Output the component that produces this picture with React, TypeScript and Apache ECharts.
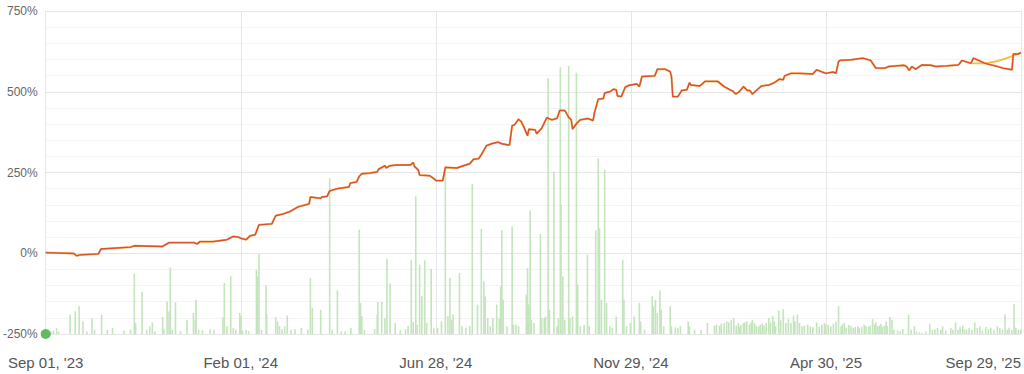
import React, { useEffect, useRef } from "react";
import * as echarts from "echarts";

// x positions are days since Sep 01, '23 (axis spans 759 days)
const xTickLabels = ["Sep 01, '23", "Feb 01, '24", "Jun 28, '24", "Nov 29, '24", "Apr 30, '25", "Sep 29, '25"];
const yTickMin = -250;
const yTickMax = 750;

// cumulative return (%) : [day, value]
const returnLine: [number, number][] = [
  [0, 2], [22, -1], [24, -8], [27, -5], [41, -2], [43, 13], [66, 19], [69, 23], [91, 21], [96, 33],
  [115, 33], [118, 29], [120, 36], [130, 36], [141, 42], [146, 52], [150, 50], [152, 46], [156, 42], [159, 54],
  [163, 57], [166, 88], [176, 91], [179, 116], [185, 122], [190, 129], [196, 143], [205, 153], [206, 174], [214, 170],
  [215, 174], [219, 176], [221, 193], [227, 200], [236, 205], [237, 217], [242, 221], [244, 238], [246, 246], [252, 248],
  [258, 252], [259, 260], [264, 271], [265, 264], [268, 271], [273, 273], [284, 273], [286, 281], [287, 269], [290, 258],
  [291, 242], [299, 240], [304, 225], [309, 225], [311, 266], [320, 264], [325, 271], [330, 277], [333, 291], [337, 293],
  [339, 305], [343, 333], [347, 339], [352, 344], [355, 339], [360, 335], [361, 336], [363, 395], [365, 398], [368, 415],
  [370, 408], [372, 392], [375, 364], [376, 384], [381, 382], [382, 370], [386, 387], [390, 420], [394, 413], [398, 418],
  [400, 442], [404, 442], [407, 421], [409, 413], [410, 384], [413, 401], [416, 413], [422, 417], [426, 411], [427, 434],
  [430, 477], [434, 479], [435, 496], [439, 500], [442, 508], [444, 506], [445, 487], [448, 485], [451, 514], [454, 520],
  [460, 524], [462, 516], [464, 547], [474, 549], [476, 570], [482, 570], [486, 562], [487, 547], [488, 485], [492, 485],
  [495, 504], [499, 506], [501, 528], [502, 521], [509, 518], [513, 532], [523, 532], [528, 516], [535, 501], [537, 493],
  [540, 501], [543, 516], [546, 504], [548, 504], [550, 493], [553, 504], [557, 518], [563, 521], [567, 528], [571, 539],
  [574, 537], [575, 549], [580, 557], [587, 557], [597, 555], [600, 568], [607, 557], [613, 561], [615, 557], [617, 593],
  [618, 597], [627, 599], [636, 604], [642, 597], [646, 573], [653, 573], [656, 578], [662, 580], [668, 582], [670, 578],
  [672, 566], [674, 578], [677, 570], [682, 583], [689, 582], [693, 578], [701, 580], [710, 583], [711, 586], [713, 597],
  [720, 588], [722, 604], [731, 588], [741, 578], [745, 573], [752, 568], [753, 617], [757, 617], [759, 621],
];

// smoothed projection at the end : [day, value]
const projectionLine: [number, number][] = [
  [721, 588], [728, 588], [735, 591], [743, 598], [750, 607], [756, 616], [759, 621],
];

// activity bars : [day, height in % units above the -250% floor]
const activityBars: [number, number][] = [
  [4, 8], [6, 11], [8.5, 19], [10, 8], [19, 60], [23, 70], [26, 86], [29, 39], [32, 8], [36, 49], [38, 13], [43.5, 60],
  [48, 13], [52, 19], [61, 10], [66, 13], [69, 187], [70, 34], [75, 130], [78.5, 13], [81, 24], [83, 36], [85, 8],
  [91, 53], [92, 15], [94.5, 101], [96, 70], [97, 206], [98.5, 13], [101, 98], [105, 8], [110, 44], [115, 65],
  [116.5, 44], [117, 106], [119, 13], [122, 11], [128, 15], [131, 13], [138, 52], [139, 158], [141, 24], [144, 180],
  [146, 19], [148, 13], [151, 65], [152, 55], [153, 10], [156, 12], [158, 8],
  [164, 199], [165, 178], [166, 247], [168, 13], [171.5, 150], [172, 60], [179, 52], [180.5, 39], [182, 24], [184, 15],
  [186, 24], [188, 57], [191, 13], [194, 15], [199, 19], [204, 13], [206, 173], [207.5, 80], [214, 75], [221, 482],
  [223, 13], [227, 135], [230, 8], [233, 8], [237.5, 19], [244, 323], [245, 96], [246, 55], [248, 13], [256, 15],
  [258, 60], [258.5, 99], [261.5, 99], [264, 49], [265.6, 232], [268, 156], [272, 34], [276, 13], [280, 15], [282, 24],
  [284.5, 230], [286, 36], [288, 426], [289, 29], [291, 214], [292.7, 117], [295, 228], [296.5, 34], [300, 201],
  [302, 19], [305, 19], [308, 39], [311, 515], [313, 55],
  [314.6, 173], [316, 44], [317, 60], [322, 189], [324, 24], [327, 19], [330, 24], [332, 465], [336, 91], [339, 325],
  [341, 163], [342, 116], [344, 49], [346, 24], [348, 49], [351, 91], [353, 49], [354, 147], [355, 321], [356, 106],
  [359, 24], [363, 333], [364, 29], [366, 29], [368, 24], [374, 122], [375, 204], [376, 91], [377, 382], [378, 44],
  [380, 34], [385, 310], [386, 49], [388, 49], [389, 54], [391, 792], [392, 75], [395.5, 503], [398, 24], [399, 49],
  [400.5, 826], [401, 400], [402.5, 178], [404, 44], [407, 830], [408, 49], [410, 54], [413, 809], [414, 153],
  [416, 24], [419, 29], [421.6, 245], [423, 24], [428, 321], [430, 544], [431, 328], [432.5, 106], [435, 508],
  [436.5, 96], [439, 24], [441, 19], [444, 54], [449, 230], [450, 106], [452, 24], [455, 34], [458, 54], [462, 96],
  [463, 39],
  [466, 13], [472, 117], [473, 86], [474.5, 106], [476, 65], [478, 135], [479, 75], [481, 24], [486, 86], [487, 24],
  [490, 21], [492, 18], [494, 24], [500, 39], [501, 24], [505, 13], [510, 13], [515, 34],
  [520.5, 26], [522, 29], [524.4, 26], [525.7, 32], [528, 34], [530, 39], [531.6, 36], [533.5, 44], [535.5, 49],
  [537.4, 26], [539, 34], [540, 22], [541, 29], [543, 34], [544, 36], [545.6, 39], [547.7, 29], [549, 36], [550, 44],
  [551.6, 34], [553, 26], [554.7, 22], [556, 29], [557.6, 32], [559, 26], [560.7, 34], [562.7, 49], [564, 36],
  [565.8, 55], [567, 39], [568, 24], [570.5, 73], [572, 44], [574, 77], [576, 34], [578, 46], [580, 34], [582, 57],
  [583, 39], [585, 60], [586.6, 34], [588.6, 24], [590.4, 26], [593, 29], [595, 24], [597, 22], [600, 36], [602, 22],
  [604, 29], [606, 34], [607, 29], [609, 29], [611, 24], [613, 32], [615, 39], [617, 86],
  [619, 24], [620, 29], [621.5, 34], [623, 19], [625, 29], [626.7, 24], [628.5, 19], [630, 22], [632, 24], [633, 19],
  [635, 22], [637, 29], [638.4, 24], [640.4, 22], [641.5, 26], [643.5, 46], [645, 29], [646, 36], [647.4, 24],
  [648.7, 26], [650, 32], [651, 22], [652.6, 26], [654, 39], [655, 24], [657, 53], [658.6, 44], [660, 13], [663, 11],
  [665, 8], [667, 15], [671.5, 60], [673.5, 13], [676, 24], [677.6, 8], [680, 5], [682, 3], [685, 8], [688, 32],
  [690, 13], [692, 15], [694, 19], [696.6, 13], [698, 24], [700.5, 11], [704.4, 19], [706, 13], [708, 36], [710, 13],
  [711.6, 22], [713.6, 26], [715, 15], [716.7, 13], [718.6, 19], [720.7, 13], [723, 36], [725, 19], [727, 24],
  [729, 11], [731.6, 22], [733.6, 15], [735.5, 19], [738, 13], [740.6, 24], [742.5, 19], [744.5, 13], [746.6, 60],
  [748.4, 13], [749.7, 19], [751.8, 13], [753.6, 94], [755, 19], [757, 13], [758.7, 13],
];

const startMarker: [number, number][] = [[0, 0]];

const X_MAX = 759;
const X_STEP = X_MAX / (xTickLabels.length - 1);

export default function App() {
  const ref = useRef<HTMLDivElement>(null);
  useEffect(() => {
    if (!ref.current) return;
    const chart = echarts.init(ref.current, undefined, { renderer: "svg" });
    const font = "Arial, 'Liberation Sans', sans-serif";
    chart.setOption({
      animation: false,
      backgroundColor: "#ffffff",
      grid: { left: 45, right: 2, top: 11, bottom: 40, containLabel: false },
      xAxis: {
        type: "value",
        min: 0,
        max: X_MAX,
        interval: X_STEP,
        axisLine: { show: false },
        axisTick: { show: false },
        splitLine: { show: true, lineStyle: { color: "#e6e6e6", width: 1 } },
        axisLabel: {
          margin: 21,
          fontSize: 15,
          fontFamily: font,
          color: "#555555",
          alignMaxLabel: "right",
          formatter: (v: number) => xTickLabels[Math.round(v / X_STEP)] ?? "",
        },
      },
      yAxis: [
        {
          type: "value",
          min: yTickMin,
          max: yTickMax,
          interval: 250,
          axisLine: { show: false },
          axisTick: { show: false },
          splitLine: { show: true, lineStyle: { color: "#e6e6e6", width: 1 } },
          minorTick: { show: false, splitNumber: 5 },
          minorSplitLine: { show: true, lineStyle: { color: "#f3f3f3", width: 1 } },
          axisLabel: {
            margin: 8,
            fontSize: 12,
            fontFamily: font,
            color: "#666666",
            formatter: "{value}%",
          },
        },
        {
          type: "value",
          min: 0,
          max: 1000,
          show: false,
          splitLine: { show: false },
        },
      ],
      series: [
        {
          type: "bar",
          yAxisIndex: 1,
          data: activityBars,
          barWidth: 1.6,
          itemStyle: { color: "#c3e4bd" },
          silent: true,
        },
        {
          type: "line",
          data: returnLine,
          showSymbol: false,
          lineStyle: { color: "#f0a84a", width: 2.1, opacity: 0.8 },
          silent: true,
        },
        {
          type: "line",
          data: projectionLine,
          smooth: true,
          showSymbol: false,
          lineStyle: { color: "#f5bd3c", width: 1.8 },
          silent: true,
        },
        {
          type: "line",
          data: returnLine,
          showSymbol: false,
          lineStyle: { color: "#d9502b", width: 1.4 },
          silent: true,
        },
        {
          type: "scatter",
          yAxisIndex: 1,
          data: startMarker,
          symbolSize: 10,
          clip: false,
          itemStyle: { color: "#3ea83a" },
          silent: true,
        },
      ],
    });
    return () => chart.dispose();
  }, []);
  return (
    <div
      ref={ref}
      style={{ position: "fixed", left: 0, top: 0, width: 1024, height: 374, background: "#fff" }}
    />
  );
}
